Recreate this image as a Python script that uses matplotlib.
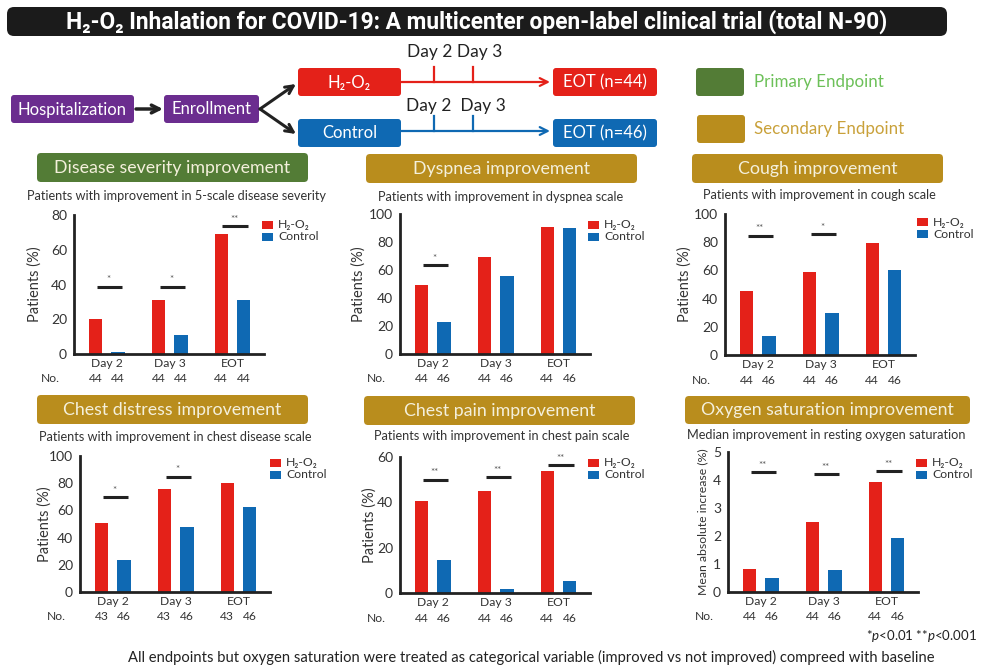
import matplotlib
matplotlib.use("Agg")
import matplotlib.pyplot as plt
from matplotlib.patches import FancyBboxPatch, Rectangle

plt.rcParams['font.family'] = ['Lato', 'DejaVu Sans']
plt.rcParams['mathtext.fontset'] = 'custom'
plt.rcParams['mathtext.rm'] = 'Lato'
plt.rcParams['mathtext.it'] = 'Lato:italic'

RED = '#e42119'
BLUE = '#0f69b3'
GREEN = '#537c36'
GOLD = '#b98d1d'
PURPLE = '#6b2d8f'
INK = '#333333'

# ---- data ----
categories = ['Day 2', 'Day 3', 'EOT']

severity_h2 = [20, 31, 69]
severity_ctrl = [1.4, 11, 31]
severity_n = [44, 44]
severity_sig = [38.8, 38.8, 73.5]
severity_stars = ['*', '*', '**']

dyspnea_h2 = [49.5, 69.5, 91]
dyspnea_ctrl = [23, 56, 90]
dyspnea_n = [44, 46]
dyspnea_sig = [63.3, None, None]
dyspnea_stars = ['*', '', '']

cough_h2 = [45.5, 59, 79.5]
cough_ctrl = [13.5, 30, 60.5]
cough_n = [44, 46]
cough_sig = [84.6, 85.8, None]
cough_stars = ['**', '*', '']

distress_h2 = [50.5, 75.5, 80.5]
distress_ctrl = [23.3, 47.5, 62.3]
distress_n = [43, 46]
distress_sig = [69.6, 84.8, None]
distress_stars = ['*', '*', '']

pain_h2 = [40.5, 45, 54]
pain_ctrl = [14.6, 1.9, 5.4]
pain_n = [44, 46]
pain_sig = [50.0, 51.1, 56.3]
pain_stars = ['**', '**', '**']

oxygen_h2 = [0.81, 2.49, 3.93]
oxygen_ctrl = [0.49, 0.77, 1.93]
oxygen_n = [44, 46]
oxygen_sig = [4.27, 4.21, 4.31]
oxygen_stars = ['**', '**', '**']

W, H = 982, 666
fig = plt.figure(figsize=(W / 100, H / 100), dpi=100)

# overlay in pixel coordinates for the diagram parts
ov = fig.add_axes([0, 0, 1, 1])
ov.set_xlim(0, W)
ov.set_ylim(H, 0)
ov.axis('off')


def rbox(x0, y0, x1, y1, color, text='', fs=12, tcolor='white', r=3, family=None, weight='normal'):
    ov.add_patch(FancyBboxPatch((x0, y0), x1 - x0, y1 - y0,
                                boxstyle=f'round,pad=0,rounding_size={r}', fc=color, ec='none'))
    if text:
        kw = {}
        if family:
            kw['family'] = family
        return ov.text((x0 + x1) / 2, (y0 + y1) / 2 + 0.5, text, ha='center', va='center',
                       fontsize=fs, color=tcolor, weight=weight, **kw)


def arrow(p0, p1, color, lw, ms=14):
    ov.annotate('', xy=p1, xytext=p0,
                arrowprops=dict(arrowstyle='->', lw=lw, color=color, mutation_scale=ms,
                                shrinkA=0, shrinkB=0))


# title bar
title = rbox(7, 7, 947, 36, '#1b1b1b', 'H₂-O₂ Inhalation for COVID-19: A multicenter open-label clinical trial (total N-90)',
             fs=14, r=7, family=['Roboto', 'DejaVu Sans'], weight='bold')
ren = fig.canvas.get_renderer()
tw = title.get_window_extent(renderer=ren).width
title.set_fontsize(14 * 823 / tw)

# flow chart
rbox(11, 95, 134, 123, PURPLE, 'Hospitalization')
rbox(164, 95, 259, 123, PURPLE, 'Enrollment')
rbox(298, 68, 401, 96, RED, 'H₂-O₂')
rbox(553, 68, 657, 96, RED, 'EOT (n=44)')
rbox(298, 119, 401, 147, BLUE, 'Control')
rbox(553, 119, 657, 147, BLUE, 'EOT (n=46)')

arrow((136, 109), (163, 109), '#222222', 2.5)
arrow((260, 109), (296, 84), '#222222', 2.2)
arrow((260, 109), (296, 134), '#222222', 2.2)
arrow((401, 82), (550, 82), RED, 1.6)
arrow((401, 131), (550, 131), BLUE, 1.6)
for tx in (434, 473):
    ov.plot([tx, tx], [82, 67], color=RED, lw=1.6)
    ov.plot([tx, tx], [131, 116], color=BLUE, lw=1.6)
ov.text(455, 52, 'Day 2 Day 3', ha='center', va='center', fontsize=12.5, color='#222222')
ov.text(456, 106, 'Day 2  Day 3', ha='center', va='center', fontsize=12.5, color='#222222')

# endpoint legend
rbox(696, 68, 744, 96, GREEN, r=3)
ov.text(754, 82, 'Primary Endpoint', ha='left', va='center', fontsize=12.2, color='#6cc058')
rbox(697, 115, 745, 143, GOLD, r=3)
ov.text(754, 129, 'Secondary Endpoint', ha='left', va='center', fontsize=12.2, color='#c9a13a')

# panel layout: header box, subtitle, axes rect (left, top, bottom), legend pos, ylabel offset
panels = [
    dict(head=(37, 153, 308, 182), hcol=GREEN, name='Disease severity improvement',
         sub='Patients with improvement in 5-scale disease severity', subxy=(177, 196),
         ax=(74, 215, 354), leg=(262, 221), ylab_dx=-32, ylabel='Patients (%)', ylab_fs=10.5,
         h2=severity_h2, ctrl=severity_ctrl, n=severity_n, sig=severity_sig, stars=severity_stars,
         ymax=80, yticks=[0, 20, 40, 60, 80]),
    dict(head=(366, 154, 637, 183), hcol=GOLD, name='Dyspnea improvement',
         sub='Patients with improvement in dyspnea scale', subxy=(501, 197),
         ax=(400, 214, 354), leg=(588, 221), ylab_dx=-34, ylabel='Patients (%)', ylab_fs=10.5,
         h2=dyspnea_h2, ctrl=dyspnea_ctrl, n=dyspnea_n, sig=dyspnea_sig, stars=dyspnea_stars,
         ymax=100, yticks=[0, 20, 40, 60, 80, 100]),
    dict(head=(692, 154, 943, 183), hcol=GOLD, name='Cough improvement',
         sub='Patients with improvement in cough scale', subxy=(819, 195),
         ax=(725, 214, 355), leg=(917, 218), ylab_dx=-33, ylabel='Patients (%)', ylab_fs=10.5,
         h2=cough_h2, ctrl=cough_ctrl, n=cough_n, sig=cough_sig, stars=cough_stars,
         ymax=100, yticks=[0, 20, 40, 60, 80, 100]),
    dict(head=(37, 395, 308, 424), hcol=GOLD, name='Chest distress improvement',
         sub='Patients with improvement in chest disease scale', subxy=(175, 437),
         ax=(80, 456, 592), leg=(270, 459), ylab_dx=-28, ylabel='Patients (%)', ylab_fs=10.5,
         h2=distress_h2, ctrl=distress_ctrl, n=distress_n, sig=distress_sig, stars=distress_stars,
         ymax=100, yticks=[0, 20, 40, 60, 80, 100]),
    dict(head=(364, 396, 635, 425), hcol=GOLD, name='Chest pain improvement',
         sub='Patients with improvement in chest pain scale', subxy=(502, 436),
         ax=(400, 457, 593), leg=(588, 459), ylab_dx=-23, ylabel='Patients (%)', ylab_fs=10.5,
         h2=pain_h2, ctrl=pain_ctrl, n=pain_n, sig=pain_sig, stars=pain_stars,
         ymax=60, yticks=[0, 20, 40, 60]),
    dict(head=(685, 396, 970, 424), hcol=GOLD, name='Oxygen saturation improvement',
         sub='Median improvement in resting oxygen saturation', subxy=(826, 435),
         ax=(728, 452, 592), leg=(916, 459), ylab_dx=-20, ylabel='Mean absolute increase (%)', ylab_fs=8.8,
         h2=oxygen_h2, ctrl=oxygen_ctrl, n=oxygen_n, sig=oxygen_sig, stars=oxygen_stars,
         ymax=5, yticks=[0, 1, 2, 3, 4, 5]),
]

AXW = 190  # px
for p in panels:
    x0, y0, x1, y1 = p['head']
    rbox(x0, y0, x1, y1, p['hcol'], p['name'], fs=12.8, tcolor='#f4f0dc', r=4)
    ov.text(p['subxy'][0], p['subxy'][1], p['sub'], ha='center', va='center', fontsize=9.2, color=INK)

    lx, ly = p['leg']
    ov.add_patch(Rectangle((lx, ly), 11, 8, fc=RED, ec='none'))
    ov.add_patch(Rectangle((lx, ly + 12), 11, 8, fc=BLUE, ec='none'))
    ov.text(lx + 16, ly + 4, 'H₂-O₂', ha='left', va='center', fontsize=8.8, color=INK)
    ov.text(lx + 16, ly + 16, 'Control', ha='left', va='center', fontsize=8.8, color=INK)

    left, top, bottom = p['ax']
    ax = fig.add_axes([left / W, 1 - bottom / H, AXW / W, (bottom - top) / H])
    ax.patch.set_alpha(0)
    xs = range(len(categories))
    ax.bar([i - 0.18 for i in xs], p['h2'], width=0.21, color=RED, zorder=2)
    ax.bar([i + 0.18 for i in xs], p['ctrl'], width=0.21, color=BLUE, zorder=2)
    ax.set_xlim(-0.52, 2.5)
    ax.set_ylim(0, p['ymax'])
    ax.set_yticks(p['yticks'])
    ax.set_xticks(list(xs))
    ax.set_xticklabels(categories)
    ax.tick_params(axis='y', length=0, pad=5, labelsize=10, labelcolor=INK)
    ax.tick_params(axis='x', length=0, pad=3, labelsize=8.7, labelcolor=INK)
    for s in ('top', 'right'):
        ax.spines[s].set_visible(False)
    for s in ('left', 'bottom'):
        ax.spines[s].set_linewidth(2.0)
        ax.spines[s].set_color('#222222')
        ax.spines[s].set_zorder(3)
    ax.set_ylabel(p['ylabel'], fontsize=p['ylab_fs'], color=INK)
    ax.yaxis.set_label_coords(p['ylab_dx'] / AXW, 0.5)

    # significance bars
    for i, (y, st) in enumerate(zip(p['sig'], p['stars'])):
        if y is None:
            continue
        ax.plot([i - 0.16, i + 0.25], [y, y], color='#222222', lw=2.2,
                solid_capstyle='butt', clip_on=False)
        ax.annotate(st, xy=(i + 0.03, y), xytext=(0, 7), textcoords='offset pixels',
                    ha='center', va='center', fontsize=7, color='#555555', annotation_clip=False)

    # sample size row
    ax.annotate('No.', xy=(-1.04, 0), xycoords=('data', 'axes fraction'), xytext=(0, -25),
                textcoords='offset pixels', ha='left', va='center', fontsize=8.7, color=INK,
                annotation_clip=False)
    for i in xs:
        for dx, nv in zip((-0.18, 0.18), p['n']):
            ax.annotate(str(nv), xy=(i + dx, 0), xycoords=('data', 'axes fraction'), xytext=(0, -25),
                        textcoords='offset pixels', ha='center', va='center', fontsize=8.7,
                        color=INK, annotation_clip=False)

ov.text(977, 636, r'*$\it{p}$<0.01 **$\it{p}$<0.001', ha='right', va='center', fontsize=9.5, color='#222222')
ov.text(531, 665, 'All endpoints but oxygen saturation were treated as categorical variable '
        '(improved vs not improved) compreed with baseline',
        ha='center', va='bottom', fontsize=10.6, color='#222222')

fig.savefig('out.png', dpi=100)
